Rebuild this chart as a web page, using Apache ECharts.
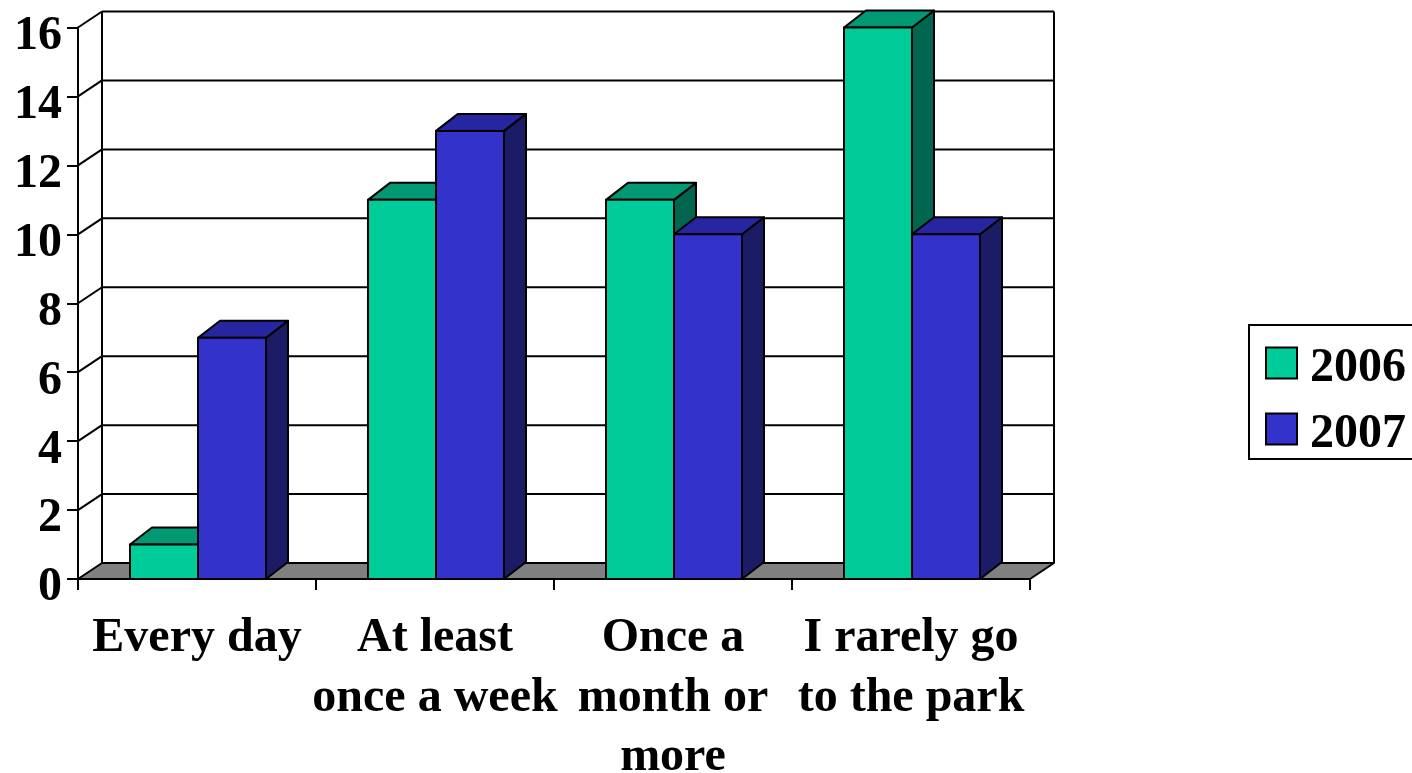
<!DOCTYPE html>
<html>
<head>
<meta charset="utf-8">
<style>html,body{margin:0;padding:0;background:#fff;overflow:hidden}#c{width:1412px;height:773px}</style>
<script src="https://cdn.jsdelivr.net/npm/echarts@6/dist/echarts.min.js"></script>
</head>
<body>
<div id="c"></div>
<script>
const categories = ['Every day', 'At least\nonce a week', 'Once a\nmonth or\nmore', 'I rarely go\nto the park'];
const values2006 = [1, 11, 11, 16];
const values2007 = [7, 13, 10, 10];
const gridValues = [0, 2, 4, 6, 8, 10, 12, 14, 16];

const FONT = '"Liberation Serif","Times New Roman",serif';
const WALL_DX = 24, WALL_DY = 16, BAR_DX = 22, BAR_DY = 17;
const LW = 2;
const STROKE = {stroke: '#000', lineWidth: LW, lineJoin: 'round'};

const chart = echarts.init(document.getElementById('c'), null, {renderer: 'canvas'});

function poly(points, fill) {
  return {type: 'polygon', shape: {points}, style: Object.assign({fill}, STROKE)};
}
function line(x1, y1, x2, y2) {
  return {type: 'line', shape: {x1, y1, x2, y2}, style: {stroke: '#000', lineWidth: LW}};
}

function renderWall(params, api) {
  const v = api.value(0);
  const cs = params.coordSys;
  const y = api.coord([0, v])[1];
  const x0 = cs.x, x1 = cs.x + cs.width;
  const kids = [];
  if (v === 0) {
    kids.push(poly([[x0, y], [x1, y], [x1 + WALL_DX, y - WALL_DY], [x0 + WALL_DX, y - WALL_DY]], '#808080'));
    const top = api.coord([0, 16])[1] - WALL_DY;
    kids.push(line(x0 + WALL_DX, y - WALL_DY, x0 + WALL_DX, top));
    kids.push(line(x1 + WALL_DX, y - WALL_DY, x1 + WALL_DX, top));
  } else {
    kids.push(line(x0, y, x0 + WALL_DX, y - WALL_DY));
    kids.push(line(x0 + WALL_DX, y - WALL_DY, x1 + WALL_DX, y - WALL_DY));
  }
  return {type: 'group', children: kids};
}

function barRenderer(side, front, topFill, sideFill) {
  return function (params, api) {
    const idx = api.value(0), val = api.value(1);
    const c = api.coord([idx, val]);
    const base = api.coord([idx, 0]);
    const w = api.size([1, 0])[0] * 68 / 238;
    const l = c[0] + 1 + side * w, r = l + w, t = c[1], b = base[1];
    return {type: 'group', children: [
      poly([[r, b], [r + BAR_DX, b - BAR_DY], [r + BAR_DX, t - BAR_DY], [r, t]], sideFill),
      poly([[l, t], [r, t], [r + BAR_DX, t - BAR_DY], [l + BAR_DX, t - BAR_DY]], topFill),
      poly([[l, t], [r, t], [r, b], [l, b]], front)
    ]};
  };
}

const boldText = {fontFamily: FONT, fontWeight: 'bold', fontSize: 48, color: '#000'};

chart.setOption({
  animation: false,
  backgroundColor: '#fff',
  textStyle: {fontFamily: FONT},
  grid: {left: 78, right: 382, top: 27.5, bottom: 194, containLabel: false, outerBoundsMode: 'none'},
  legend: {
    orient: 'vertical',
    left: 1249,
    top: 325,
    data: ['2006', '2007'],
    icon: 'rect',
    itemWidth: 31,
    itemHeight: 31,
    itemGap: 18,
    padding: [20, 40, 0, 16],
    backgroundColor: '#fff',
    borderColor: '#000',
    borderWidth: 2,
    borderRadius: 0,
    itemStyle: {borderColor: '#000', borderWidth: 2},
    formatter: '{a|{name}}',
    textStyle: Object.assign({}, boldText, {
      rich: {a: Object.assign({}, boldText, {padding: [12, 0, 0, 8]})}
    })
  },
  xAxis: {
    type: 'category',
    data: categories,
    boundaryGap: true,
    axisLine: {show: true, lineStyle: {color: '#000', width: 2}},
    axisTick: {show: true, length: 11, alignWithLabel: false, lineStyle: {color: '#000', width: 2}},
    axisLabel: Object.assign({}, boldText, {interval: 0, margin: 30, lineHeight: 59.5, hideOverlap: false})
  },
  yAxis: {
    type: 'value',
    min: 0,
    max: 16,
    interval: 2,
    splitLine: {show: false},
    axisLine: {show: true, lineStyle: {color: '#000', width: 2}},
    axisTick: {show: true, length: 11, lineStyle: {color: '#000', width: 2}},
    axisLabel: Object.assign({}, boldText, {
      margin: 16,
      formatter: '{a|{value}}',
      rich: {a: Object.assign({}, boldText, {padding: [18, 0, 0, 0]})}
    })
  },
  series: [
    {name: 'wall', type: 'custom', silent: true, z: 1, renderItem: renderWall,
     data: gridValues.map(v => [v]), encode: {y: 0}, clip: false, tooltip: {show: false}},
    {name: '2006', type: 'custom', z: 2, itemStyle: {color: '#00CC99'},
     renderItem: barRenderer(-1, '#00CC99', '#009973', '#006650'),
     data: values2006.map((v, i) => [i, v]), encode: {x: 0, y: 1}, clip: false},
    {name: '2007', type: 'custom', z: 3, itemStyle: {color: '#3333CC'},
     renderItem: barRenderer(0, '#3333CC', '#2626A0', '#1C1C66'),
     data: values2007.map((v, i) => [i, v]), encode: {x: 0, y: 1}, clip: false}
  ]
});
</script>
</body>
</html>
